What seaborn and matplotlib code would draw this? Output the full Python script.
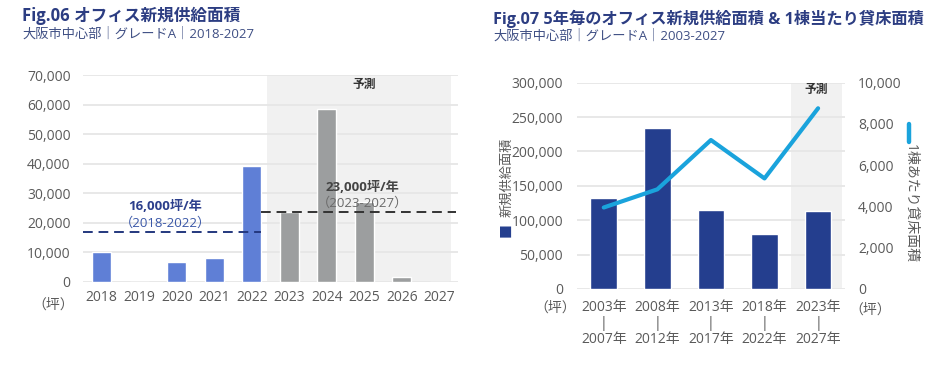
"""
Osaka grade-A office supply: annual (Fig.06) and 5-year buckets (Fig.07).
"""

import matplotlib

matplotlib.use("Agg")
import matplotlib.pyplot as plt
import numpy as np
import pandas as pd
import seaborn as sns
from matplotlib.lines import Line2D

# --- data ------------------------------------------------------------ #
years = ["2018", "2019", "2020", "2021", "2022", "2023", "2024", "2025", "2026", "2027"]
supply = [10100, 0, 6800, 8100, 39300, 23600, 58600, 27200, 1700, 0]
is_forecast = [False] * 5 + [True] * 5
avg_past = 16800
avg_future = 23600

periods = ["2003年\n|\n2007年", "2008年\n|\n2012年", "2013年\n|\n2017年",
           "2018年\n|\n2022年", "2023年\n|\n2027年"]
supply_5y = [133000, 234000, 114500, 80500, 113500]
floor_per_bldg = [3950, 4830, 7220, 5360, 8760]

NAVY = "#2c3d82"
TICK = "#5a5a5a"
GRID = "#e6e6e6"
SHADE = "#f1f1f1"

sns.set_theme(style="white")
plt.rcParams["font.family"] = ["Open Sans", "Noto Sans CJK JP", "DejaVu Sans"]
plt.rcParams["axes.unicode_minus"] = False

fig = plt.figure(figsize=(9.4, 3.74), dpi=100)
fmt = matplotlib.ticker.StrMethodFormatter("{x:,.0f}")


def style_axis(ax):
    for s in ax.spines.values():
        s.set_visible(False)
    ax.tick_params(axis="both", length=0, colors=TICK, labelsize=10)
    ax.yaxis.grid(True, color=GRID, linewidth=1.3)
    ax.set_axisbelow(True)
    ax.set_xlabel("")
    ax.set_ylabel("")


# --- Fig.06 ---------------------------------------------------------- #
ax1 = fig.add_axes([0.0883, 0.246, 0.399, 0.553])
df1 = pd.DataFrame({"year": years, "supply": supply, "forecast": is_forecast})
ax1.axvspan(4.4, 9.3, color=SHADE, zorder=0, lw=0)
sns.barplot(data=df1, x="year", y="supply", hue="forecast",
            palette={False: "#5f7fd6", True: "#9c9e9f"}, width=0.5,
            dodge=False, legend=False, saturation=1, ax=ax1, zorder=2)
style_axis(ax1)
ax1.set_xlim(-0.5, 9.5)
ax1.set_ylim(0, 70000)
ax1.set_yticks(np.arange(0, 70001, 10000))
ax1.yaxis.set_major_formatter(fmt)
ax1.tick_params(axis="y", pad=9)
ax1.tick_params(axis="x", pad=6)

ax1.plot([-0.5, 4.25], [avg_past, avg_past], ls=(0, (5, 3)), color="#24387e", lw=1.4, zorder=3)
ax1.plot([4.25, 9.45], [avg_future, avg_future], ls=(0, (5, 3)), color="#333333", lw=1.4, zorder=3)

ax1.text(1.7, 25400, "16,000坪/年", ha="center", va="center", fontsize=9.5,
         fontweight="bold", color="#2c3f8c", zorder=4)
ax1.text(1.7, 20000, "（2018-2022）", ha="center", va="center",
         fontsize=9.5, color="#3b58a8", zorder=4)
ax1.text(6.95, 31900, "23,000坪/年", ha="center", va="center", fontsize=9.5,
         fontweight="bold", color="#444444", zorder=4)
ax1.text(6.95, 26500, "（2023-2027）", ha="center", va="center", fontsize=9.5,
         color="#6a6a6a", zorder=4)
ax1.text(7.0, 67000, "予測", ha="center", va="center", fontsize=8.5,
         fontweight="bold", color="#333333", zorder=4)
fig.text(53 / 940, 1 - 305 / 374, "（坪）", ha="center", va="center", fontsize=10, color=TICK)

fig.text(22 / 940, 1 - 16 / 374, "Fig.06 オフィス新規供給面積", ha="left", va="center",
         fontsize=12, fontweight="bold", color=NAVY)
fig.text(22 / 940, 1 - 34 / 374, "大阪市中心部｜グレードA｜2018-2027", ha="left", va="center",
         fontsize=9.5, color="#3f4f84")

# --- Fig.07 ---------------------------------------------------------- #
ax2 = fig.add_axes([0.6138, 0.2273, 0.285, 0.5516])
df2 = pd.DataFrame({"period": periods, "supply": supply_5y})
ax2.axvspan(3.5, 4.44, color=SHADE, zorder=0, lw=0)
sns.barplot(data=df2, x="period", y="supply", color="#243e8e", width=0.5,
            saturation=1, ax=ax2, zorder=2)
style_axis(ax2)
ax2.set_xlim(-0.5, 4.5)
ax2.set_ylim(0, 300000)
ax2.set_yticks(np.arange(0, 300001, 50000))
ax2.yaxis.set_major_formatter(fmt)
ax2.tick_params(axis="y", pad=10)
ax2.tick_params(axis="x", pad=8)
for lbl in ax2.get_xticklabels():
    lbl.set_linespacing(1.1)

ax3 = ax2.twinx()
sns.lineplot(x=np.arange(len(floor_per_bldg)), y=floor_per_bldg, color="#1aa3dc",
             linewidth=3, ax=ax3, zorder=5)
for s in ax3.spines.values():
    s.set_visible(False)
ax3.set_ylim(0, 10000)
ax3.set_yticks(np.arange(0, 10001, 2000))
ax3.yaxis.set_major_formatter(fmt)
ax3.tick_params(axis="y", length=0, colors=TICK, labelsize=10, pad=9.5)
ax3.grid(False)
ax3.set_ylabel("")
ax3.set_xlim(-0.5, 4.5)

ax2.text(3.97, 290000, "予測", ha="center", va="center", fontsize=8.5,
         fontweight="bold", color="#333333", zorder=4)

fig.text(555 / 940, 1 - 308 / 374, "（坪）", ha="center", va="center", fontsize=10, color=TICK)
fig.text(870 / 940, 1 - 310 / 374, "（坪）", ha="center", va="center", fontsize=10, color=TICK)

# axis titles with their legend keys
fig.text(507 / 940, 1 - 230 / 374, "■", ha="center", va="center", rotation=90,
         fontsize=10, color="#243e8e")
fig.text(507 / 940, 1 - 177 / 374, "新規供給面積", ha="center", va="center", rotation=90,
         fontsize=9.5, color=TICK)
fig.add_artist(Line2D([909 / 940, 909 / 940], [1 - 124 / 374, 1 - 142 / 374],
                      color="#1aa3dc", lw=3.2, transform=fig.transFigure))
fig.text(910 / 940, 1 - 204 / 374, "1棟あたり貸床面積", ha="center", va="center",
         rotation=270, fontsize=10, color=TICK)

fig.text(493 / 940, 1 - 19 / 374, "Fig.07 5年毎のオフィス新規供給面積 & 1棟当たり貸床面積",
         ha="left", va="center", fontsize=11.7, fontweight="bold", color=NAVY)
fig.text(493 / 940, 1 - 36 / 374, "大阪市中心部｜グレードA｜2003-2027", ha="left", va="center",
         fontsize=9.5, color="#3f4f84")

fig.savefig("out.png", dpi=100, facecolor="white")
